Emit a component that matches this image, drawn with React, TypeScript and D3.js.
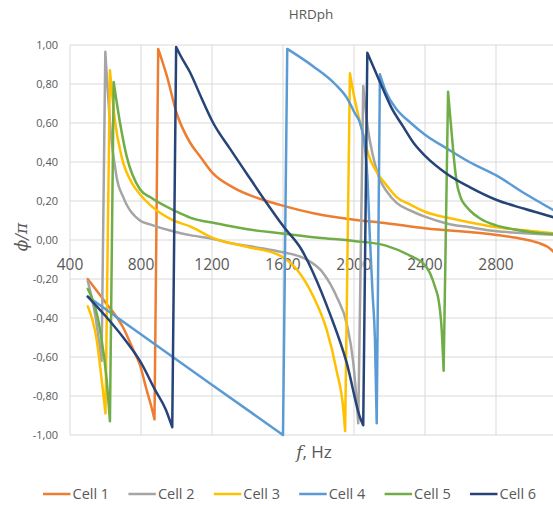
import React from 'react';
import * as d3 from 'd3';

type Pt = [number, number];

const seriesNames = ['Cell 1', 'Cell 2', 'Cell 3', 'Cell 4', 'Cell 5', 'Cell 6'];
const seriesColors = ['#ED7D31', '#A5A5A5', '#FFC000', '#5B9BD5', '#70AD47', '#264478'];

const cell1: Pt[] = [
  [500, -0.2], [600, -0.32], [700, -0.45], [755, -0.56], [794, -0.64], [832, -0.77], [860, -0.86], [876, -0.92],
  [897, 0.98], [946, 0.84], [1001, 0.65], [1076, 0.5], [1132, 0.43], [1207, 0.34], [1318, 0.27], [1489, 0.205],
  [1583, 0.18], [1771, 0.137], [2034, 0.1], [2146, 0.09], [2400, 0.06], [2804, 0.026], [2950, 0.005],
  [3040, -0.015], [3090, -0.035], [3130, -0.065],
];
const cell2: Pt[] = [
  [500, -0.21], [541, -0.38], [578, -0.62],
  [599, 0.965], [635, 0.5], [653, 0.38], [663, 0.32], [700, 0.22], [794, 0.1], [851, 0.08], [1001, 0.04],
  [1076, 0.025], [1207, 0.005], [1301, -0.015], [1450, -0.038], [1583, -0.06], [1733, -0.1], [1827, -0.17],
  [1902, -0.29], [1959, -0.43], [1996, -0.63], [2024, -0.94],
  [2052, 0.79], [2080, 0.56], [2105, 0.44], [2146, 0.31], [2184, 0.25], [2240, 0.19], [2320, 0.15], [2400, 0.12],
  [2522, 0.085], [2654, 0.065], [2804, 0.045], [2960, 0.035], [3130, 0.026],
];
const cell3: Pt[] = [
  [500, -0.34], [550, -0.51], [579, -0.72], [600, -0.89],
  [625, 0.87], [655, 0.6], [690, 0.43], [757, 0.28], [794, 0.235], [851, 0.18], [983, 0.1], [1076, 0.07],
  [1207, 0.01], [1396, -0.035], [1583, -0.08], [1677, -0.15], [1771, -0.29], [1846, -0.46], [1902, -0.67],
  [1940, -0.87], [1950, -0.98],
  [1977, 0.855], [2000, 0.74], [2024, 0.64], [2050, 0.55], [2080, 0.44], [2127, 0.35], [2184, 0.28], [2240, 0.22],
  [2320, 0.18], [2400, 0.145], [2522, 0.115], [2654, 0.09], [2804, 0.065], [2960, 0.05], [3130, 0.034],
];
const cell4: Pt[] = [
  [500, -0.29], [1207, -0.747], [1600, -1.0],
  [1624, 0.98], [1771, 0.89], [1893, 0.8], [1959, 0.73], [2005, 0.65], [2034, 0.6], [2062, 0.47], [2075, 0.33],
  [2090, 0.0], [2105, -0.28], [2118, -0.51], [2128, -0.94],
  [2146, 0.85], [2180, 0.76], [2240, 0.67], [2320, 0.6], [2400, 0.54], [2522, 0.47], [2650, 0.4], [2804, 0.33],
  [2960, 0.24], [3130, 0.15],
];
const cell5: Pt[] = [
  [500, -0.25], [569, -0.46], [607, -0.72], [625, -0.93],
  [646, 0.81], [682, 0.6], [719, 0.43], [794, 0.26], [851, 0.22], [1001, 0.145], [1076, 0.115], [1226, 0.085],
  [1400, 0.055], [1583, 0.035], [1800, 0.012], [2000, -0.005], [2184, -0.03], [2315, -0.08], [2400, -0.13],
  [2428, -0.17], [2460, -0.25], [2475, -0.3], [2494, -0.46], [2505, -0.67],
  [2530, 0.76], [2550, 0.55], [2565, 0.4], [2578, 0.3], [2600, 0.22], [2634, 0.17], [2654, 0.15], [2710, 0.11],
  [2800, 0.075], [2898, 0.055], [3000, 0.04], [3130, 0.03],
];
const cell6: Pt[] = [
  [500, -0.29], [600, -0.39], [700, -0.5], [757, -0.57], [794, -0.62], [880, -0.77], [940, -0.87], [976, -0.96],
  [998, 0.99], [1020, 0.95], [1076, 0.86], [1140, 0.73], [1207, 0.6], [1300, 0.47], [1396, 0.34], [1508, 0.19],
  [1602, 0.07], [1705, -0.05], [1771, -0.17], [1865, -0.38], [1959, -0.63], [2034, -0.91], [2052, -0.95],
  [2075, 0.96], [2146, 0.81], [2210, 0.68], [2278, 0.58], [2334, 0.5], [2402, 0.43], [2522, 0.34], [2654, 0.27],
  [2804, 0.205], [2960, 0.16], [3130, 0.115],
];
const seriesData: Pt[][] = [cell1, cell2, cell3, cell4, cell5, cell6];

const xTicks = [400, 800, 1200, 1600, 2000, 2400, 2800];
const yTicks = [-1, -0.8, -0.6, -0.4, -0.2, 0, 0.2, 0.4, 0.6, 0.8, 1];
const titleText = 'HRDph';

const W = 553;
const H = 505;
const x = d3.scaleLinear().domain([400, 3200]).range([70, 567]);
const y = d3.scaleLinear().domain([-1, 1]).range([435, 45]);
const TEXT = '#595959';
const FONT = "'Open Sans', 'Liberation Sans', sans-serif";

function buildPath(data: Pt[]): string {
  const line = d3
    .line<Pt>()
    .x((d) => x(d[0]))
    .y((d) => y(d[1]))
    .curve(d3.curveMonotoneX);
  const branches: Pt[][] = [];
  let cur: Pt[] = [data[0]];
  for (let i = 1; i < data.length; i++) {
    if (data[i][1] > data[i - 1][1] + 0.3) {
      branches.push(cur);
      cur = [data[i]];
    } else cur.push(data[i]);
  }
  branches.push(cur);
  return branches
    .map((b, i) => {
      const p = line(b) || '';
      return i === 0 ? p : 'L' + p.slice(1);
    })
    .join('');
}

const fmtY = (v: number) => d3.format('.2f')(v).replace('.', ',').replace('−', '-');

export default function App() {
  const legendStart = 43;
  const legendStep = 85.4;
  return (
    <svg
      width={W}
      height={H}
      style={{ position: 'absolute', left: 0, top: 0, background: '#fff' }}
      fontFamily={FONT}
    >
      <rect x={0} y={0} width={W} height={H} fill="#fff" />
      {/* gridlines */}
      {yTicks.map((t) => (
        <line key={'h' + t} x1={70} x2={W + 20} y1={y(t)} y2={y(t)} stroke="#D9D9D9" strokeWidth={1} />
      ))}
      {xTicks.map((t) => (
        <line key={'v' + t} x1={x(t)} x2={x(t)} y1={y(1)} y2={y(-1)} stroke="#D9D9D9" strokeWidth={1} />
      ))}
      {/* y labels */}
      {yTicks.map((t) => (
        <text key={'yl' + t} x={58} y={y(t) + 4} textAnchor="end" fontSize={11} fill={TEXT}>
          {fmtY(t)}
        </text>
      ))}
      {/* x labels */}
      {xTicks.map((t) => (
        <text key={'xl' + t} x={x(t)} y={270.3} textAnchor="middle" fontSize={15.5} fill={TEXT}>
          {t}
        </text>
      ))}
      {/* series */}
      {seriesData.map((d, i) => (
        <path
          key={seriesNames[i]}
          d={buildPath(d)}
          fill="none"
          stroke={seriesColors[i]}
          strokeWidth={2.5}
          strokeLinejoin="round"
          strokeLinecap="round"
        />
      ))}
      {/* title */}
      <text x={311} y={19} textAnchor="middle" fontSize={13.5} fill={TEXT}>
        {titleText}
      </text>
      {/* y axis title */}
      <text
        transform="translate(27,237) rotate(-90)"
        textAnchor="middle"
        fontSize={17}
        fill={TEXT}
        fontFamily="'DejaVu Serif', serif"
        fontStyle="italic"
      >
        ϕ/π
      </text>
      {/* x axis title */}
      <text x={314} y={458} textAnchor="middle" fontSize={17} fill={TEXT}>
        <tspan fontStyle="italic" fontFamily="'DejaVu Serif', serif">f</tspan>
        <tspan>, Hz</tspan>
      </text>
      {/* legend */}
      {seriesNames.map((n, i) => {
        const lx = legendStart + i * legendStep;
        return (
          <g key={'lg' + n}>
            <line x1={lx} x2={lx + 27.5} y1={494} y2={494} stroke={seriesColors[i]} strokeWidth={2.5} />
            <text x={lx + 29.5} y={499.3} fontSize={14.5} fill={TEXT}>
              {n}
            </text>
          </g>
        );
      })}
    </svg>
  );
}
